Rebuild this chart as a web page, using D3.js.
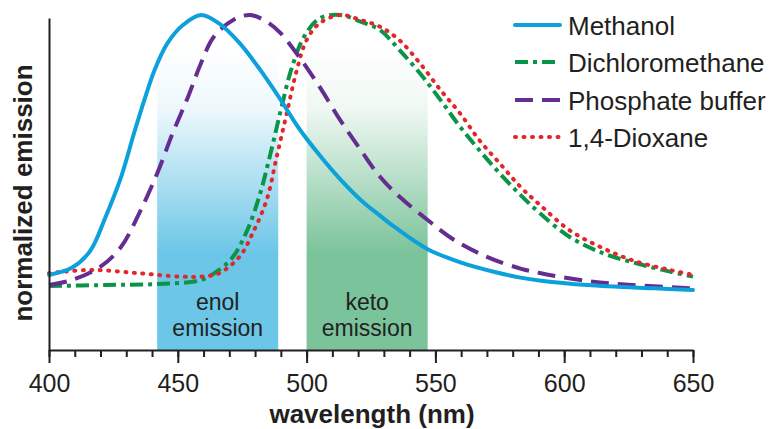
<!DOCTYPE html>
<html>
<head>
<meta charset="utf-8">
<script src="https://cdn.jsdelivr.net/npm/d3@7"></script>
<style>
  html, body { margin: 0; padding: 0; background: #fff; }
  svg { display: block; font-family: "Liberation Sans", Arial, Helvetica, sans-serif; }
</style>
</head>
<body>
<svg id="chart" width="777" height="429"></svg>
<script>
// ---------- data ----------
const seriesNames = ["Methanol", "Dichloromethane", "Phosphate buffer", "1,4-Dioxane"];

const methanolWl  = [400,409,416,422,428,433,437,441,446,452,459,466,474,482,490,497,505,513,521,529,534,547,560,573,583,591,609,635,650];
const methanolVal = [0.224,0.246,0.296,0.398,0.517,0.647,0.746,0.836,0.916,0.970,1.000,0.975,0.916,0.836,0.746,0.662,0.582,0.510,0.448,0.398,0.368,0.301,0.261,0.233,0.216,0.207,0.194,0.184,0.179];

const dcmWl  = [400,422,442,459,466,471.5,477,482,486,490,494,499,505,513,521,528.5,536,544,552,559.5,567,575,583,590.6,602,615,628,641,650];
const dcmVal = [0.191,0.194,0.197,0.209,0.239,0.279,0.358,0.468,0.587,0.716,0.836,0.935,0.990,1.000,0.980,0.955,0.896,0.826,0.746,0.667,0.597,0.527,0.463,0.408,0.338,0.289,0.259,0.234,0.219];

const phosWl  = [400,409,420,428,435,442,448,454,459,464,471.5,478,484.5,490,497,505,513,521,528.5,536,547,557,570,583,591,598,610,622,650];
const phosVal = [0.194,0.209,0.249,0.308,0.408,0.527,0.647,0.756,0.856,0.935,0.985,1.000,0.980,0.945,0.876,0.786,0.687,0.597,0.517,0.458,0.388,0.330,0.278,0.243,0.229,0.219,0.205,0.196,0.184];

const dioxWl  = [400,416,435,451,459,466,474,479,484.5,488.4,492.3,496.2,500,505,513,521,528.5,536,544,552,559.5,567,575,583,590.6,602,615,628,641,650];
const dioxVal = [0.229,0.239,0.229,0.219,0.219,0.229,0.279,0.348,0.448,0.577,0.707,0.836,0.925,0.975,1.000,0.985,0.965,0.925,0.856,0.776,0.707,0.627,0.557,0.487,0.433,0.358,0.304,0.264,0.239,0.224];

const xTicks = [400, 450, 500, 550, 600, 650];
const minorTicks = d3.range(400, 651, 10);

const bandNames = [["enol", "emission"], ["keto", "emission"]];
const bandStart = [442, 500];
const bandEnd   = [489, 547];

// ---------- styles ----------
const colors = ["#0CA1DB", "#0A9447", "#662D91", "#E3262A"];
const dashes = [null, "13,5,4,5", "18,9", "1,7.5"];
const caps   = ["round", "butt", "butt", "round"];
const bandColors = ["#6CC6E7", "#7BC39A"];
const ink = "#231F20";

const svg = d3.select("#chart");
svg.append("rect").attr("width", 777).attr("height", 429).attr("fill", "#fff");

const x = d3.scaleLinear().domain([400, 650]).range([49, 693]);
const y = d3.scaleLinear().domain([0, 1]).range([350, 15]);

// gradients for bands
const defs = svg.append("defs");
bandColors.forEach((c, i) => {
  const g = defs.append("linearGradient").attr("id", "band" + i)
    .attr("x1", 0).attr("y1", 0).attr("x2", 0).attr("y2", 1);
  g.append("stop").attr("offset", 0).attr("stop-color", c).attr("stop-opacity", 0);
  g.append("stop").attr("offset", 0.2).attr("stop-color", c).attr("stop-opacity", 0.12);
  g.append("stop").attr("offset", 0.68).attr("stop-color", c).attr("stop-opacity", 1);
  g.append("stop").attr("offset", 1).attr("stop-color", c).attr("stop-opacity", 1);
});

bandStart.forEach((s, i) => {
  svg.append("rect")
    .attr("x", x(s)).attr("width", x(bandEnd[i]) - x(s))
    .attr("y", y(0.9)).attr("height", y(0) - y(0.9))
    .attr("fill", `url(#band${i})`);
  const cx = (x(s) + x(bandEnd[i])) / 2;
  bandNames[i].forEach((w, j) => {
    svg.append("text").attr("text-anchor", "middle")
      .attr("font-size", 23).attr("fill", "#222")
      .attr("x", cx).attr("y", 310 + j * 26).text(w);
  });
});

// curves
const line = d3.line().x(d => x(d[0])).y(d => y(d[1])).curve(d3.curveCatmullRom.alpha(0.5));
const seriesData = [
  d3.zip(methanolWl, methanolVal),
  d3.zip(dcmWl, dcmVal),
  d3.zip(phosWl, phosVal),
  d3.zip(dioxWl, dioxVal)
];
const drawOrder = [1, 3, 2, 0];
drawOrder.forEach(i => {
  svg.append("path").datum(seriesData[i])
    .attr("d", line)
    .attr("fill", "none")
    .attr("stroke", colors[i])
    .attr("stroke-width", 4)
    .attr("stroke-linecap", caps[i])
    .attr("stroke-linejoin", "round")
    .attr("stroke-dasharray", dashes[i]);
});

// x axis
const gx = svg.append("g").attr("transform", "translate(0,350)");
gx.call(d3.axisBottom(x).tickValues(minorTicks).tickSize(7).tickFormat(""))
  .call(g => g.selectAll("line").attr("stroke", ink).attr("stroke-width", 2))
  .call(g => g.select(".domain").remove());
const gx2 = svg.append("g").attr("transform", "translate(0,350)");
gx2.call(d3.axisBottom(x).tickValues(xTicks).tickSize(13).tickSizeOuter(0).tickFormat(d3.format("d")))
  .call(g => g.select(".domain").attr("stroke", ink).attr("stroke-width", 2))
  .call(g => g.selectAll("line").attr("stroke", ink).attr("stroke-width", 2))
  .call(g => g.selectAll("text").attr("y", 42).attr("dy", 0)
    .attr("font-size", 25).attr("fill", ink)
    .attr("font-family", "'Liberation Sans', Arial, Helvetica, sans-serif"));

// y axis line (no ticks)
const gy = svg.append("g").attr("transform", "translate(49,0)");
gy.call(d3.axisLeft(d3.scaleLinear().domain([0, 1]).range([350, 18])).tickValues([]).tickSizeOuter(0))
  .call(g => g.select(".domain").attr("stroke", ink).attr("stroke-width", 2));

// axis titles
svg.append("text").attr("x", 372).attr("y", 423).attr("text-anchor", "middle")
  .attr("font-size", 26).attr("font-weight", "bold").attr("fill", ink)
  .text("wavelength (nm)");
svg.append("text").attr("transform", "translate(32,193) rotate(-90)")
  .attr("text-anchor", "middle").attr("font-size", 26).attr("font-weight", "bold").attr("fill", ink)
  .text("normalized emission");

// legend
const legRowY = [25, 62, 100, 137];
seriesNames.forEach((name, i) => {
  const gy0 = legRowY[i];
  svg.append("line").attr("x1", 515).attr("x2", 560).attr("y1", gy0).attr("y2", gy0)
    .attr("stroke", colors[i]).attr("stroke-width", 4)
    .attr("stroke-linecap", caps[i]).attr("stroke-dasharray", dashes[i]);
  svg.append("text").attr("x", 568).attr("y", gy0 + 10)
    .attr("font-size", 26).attr("fill", ink).text(name);
});
</script>
</body>
</html>
